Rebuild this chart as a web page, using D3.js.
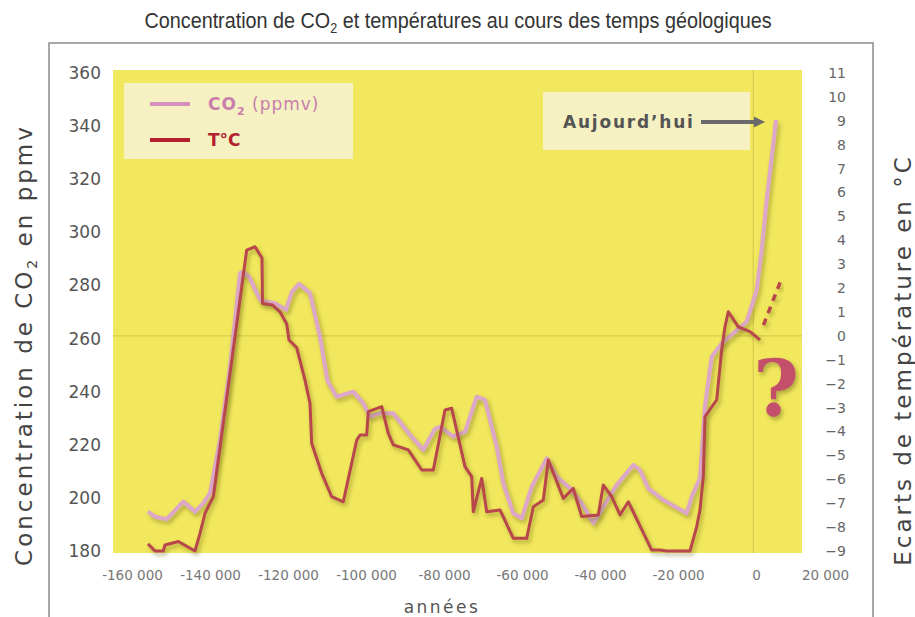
<!DOCTYPE html>
<html>
<head>
<meta charset="utf-8">
<script src="https://cdn.jsdelivr.net/npm/d3@7"></script>
<style>
	body { margin: 0; background: #fff; }
	svg { display: block; }
</style>
</head>
<body>
<svg id="chart"></svg>
<script>
// données
const co2Years = [-155900, -154100, -151100, -146850, -143850, -141700, -140000, -137440, -134870, -132310,
	-131620, -130000, -127050, -123330, -120510, -119050, -117180, -114360, -111800, -109870,
	-107510, -103260, -100690, -98970, -96410, -93000, -88720, -85310, -82310, -81030,
	-77610, -74620, -71620, -69490, -66490, -64790, -62230, -60080, -57510, -53670,
	-51100, -47690, -44690, -41720, -39150, -35720, -31460, -29740, -27620, -23770,
	-17770, -16490, -14360, -13080, -11360, -8800, -5820, -2380, 180, 1460, 2740, 5130];
const co2Values = [194.8, 192.9, 192.0, 198.6, 194.8, 198.0, 201.8, 221.8, 249.4, 284.6,
	285.2, 283.3, 274.3, 273.3, 270.8, 277.5, 280.6, 277.1, 260.7, 244.0,
	238.1, 240.0, 235.6, 230.6, 231.9, 231.9, 223.7, 218.1, 226.0, 226.8,
	223.1, 224.9, 238.1, 236.9, 219.3, 205.5, 194.2, 192.3, 204.2, 214.9,
	208.0, 203.6, 198.0, 190.5, 196.7, 204.9, 212.4, 210.5, 203.6, 199.2,
	194.2, 200.5, 207.5, 234.4, 253.2, 258.2, 262.0, 266.4, 278.3, 293.4, 312.2, 342.3];

const tempYears = [-155900, -154100, -151970, -151540, -148130, -143850, -142560, -141280, -139150, -130590,
	-128460, -126670, -126540, -123970, -122050, -120330, -119740, -117770, -115640, -114360,
	-113930, -111360, -108800, -105820, -102380, -101540, -99820, -99410, -95970, -94280,
	-93000, -89150, -85720, -82740, -79740, -78030, -74620, -72900, -72490, -70330,
	-69050, -65640, -62230, -58800, -57100, -54540, -53260, -49410, -46850, -44690,
	-40440, -39150, -37000, -34870, -32740, -26740, -24620, -22900, -16920, -15200,
	-14360, -13510, -13080, -10080, -8800, -7950, -7100, -4540, -1540, 1030];
const tempValues = [-8.7, -9.0, -9.0, -8.75, -8.6, -9.0, -8.26, -7.42, -6.73, 3.59,
	3.73, 3.26, 1.36, 1.29, 1.01, 0.5, -0.17, -0.49, -1.85, -2.82,
	-4.49, -5.75, -6.73, -6.94, -4.36, -4.15, -4.15, -3.17, -2.96, -4.08,
	-4.56, -4.77, -5.61, -5.61, -3.1, -3.03, -5.47, -5.89, -7.36, -5.96,
	-7.36, -7.28, -8.47, -8.47, -7.15, -6.87, -5.19, -6.8, -6.38, -7.56,
	-7.49, -6.24, -6.73, -7.49, -6.94, -8.96, -8.96, -9.0, -9.0, -7.98,
	-7.28, -5.89, -3.38, -2.68, -0.59, 0.38, 1.01, 0.38, 0.18, -0.17];

// prolongement incertain (pointillés)
const trendYears = [1900, 6200];
const trendValues = [0.45, 2.25];

const yearTicks = [-160000, -140000, -120000, -100000, -80000, -60000, -40000, -20000, 0, 20000];
const co2Ticks = [180, 200, 220, 240, 260, 280, 300, 320, 340, 360];
const tempTicks = d3.range(-9, 12);

const width = 915;
const height = 617;

const svg = d3.select("#chart")
              .attr("width", width)
              .attr("height", height);

// ombre portée des courbes
const defs = svg.append("defs");
defs.append("filter")
    .attr("id", "shadow")
    .attr("x", "-10%").attr("y", "-10%")
    .attr("width", "130%").attr("height", "130%")
    .append("feDropShadow")
    .attr("dx", 2).attr("dy", 3)
    .attr("stdDeviation", 2)
    .attr("flood-color", "#5f5a1c")
    .attr("flood-opacity", 0.45);

defs.append("marker")
    .attr("id", "arrow")
    .attr("viewBox", "0 0 10 10")
    .attr("refX", 1).attr("refY", 5)
    .attr("markerWidth", 3.6).attr("markerHeight", 2.8)
    .attr("markerUnits", "strokeWidth")
    .attr("orient", "auto")
    .append("path")
    .attr("d", "M0,0 L10,5 L0,10 Z")
    .attr("fill", "#6a6a6a");

// échelles
const xScale = d3.scaleLinear([-160000, 20000], [132, 834]);
const co2Scale = d3.scaleLinear([180, 360], [551, 73]);
const tempScale = d3.scaleLinear([-9, 11], [551, 73]);

// cadre gris
svg.append("path")
   .attr("d", `M49,${height} V43 H873 V${height}`)
   .attr("fill", "none")
   .attr("stroke", "#8c8c8c")
   .attr("stroke-width", 1.5);

// fond jaune
svg.append("rect")
   .attr("x", 113).attr("y", 70)
   .attr("width", 689).attr("height", 483)
   .attr("fill", "#f2e85e");

// repères 0°C / an 0
svg.append("line")
   .attr("x1", 113).attr("x2", 802)
   .attr("y1", tempScale(0)).attr("y2", tempScale(0))
   .attr("stroke", "#d6cc4e").attr("stroke-width", 1.2);
svg.append("line")
   .attr("x1", xScale(-700)).attr("x2", xScale(-700))
   .attr("y1", 70).attr("y2", 553)
   .attr("stroke", "#d6cc4e").attr("stroke-width", 1.2);

// titre (police resserrée)
svg.append("text")
   .attr("transform", "translate(458, 28) scale(0.9, 1)")
   .attr("text-anchor", "middle")
   .attr("font-family", "'Liberation Sans Narrow', 'Arial Narrow', 'Liberation Sans', sans-serif")
   .attr("font-size", 22)
   .attr("fill", "#333")
   .call(t => {
	   t.append("tspan").text("Concentration de CO");
	   t.append("tspan").attr("font-size", 14).attr("dy", 5).text("2");
	   t.append("tspan").attr("dy", -5).text(" et températures au cours des temps géologiques");
   });

// axe gauche (CO2)
svg.append("g")
   .attr("transform", "translate(103, 0)")
   .call(d3.axisLeft(co2Scale).tickValues(co2Ticks).tickSize(0).tickPadding(2))
   .call(g => g.select(".domain").remove())
   .call(g => g.selectAll("text")
               .attr("font-family", "'DejaVu Sans', sans-serif")
               .attr("font-size", 17)
               .attr("fill", "#555"));

// axe droit (température)
svg.append("g")
   .attr("transform", "translate(848, 0)")
   .call(d3.axisLeft(tempScale).tickValues(tempTicks).tickSize(0).tickPadding(2))
   .call(g => g.select(".domain").remove())
   .call(g => g.selectAll("text")
               .attr("font-family", "'DejaVu Sans', sans-serif")
               .attr("font-size", 14)
               .attr("fill", "#666"));

// axe des années
svg.append("g")
   .attr("transform", "translate(0, 570)")
   .call(d3.axisBottom(xScale).tickValues(yearTicks).tickSize(0).tickPadding(0)
           .tickFormat(d => d3.format(",")(d).replace(/,/g, " ").replace("−", "-")))
   .call(g => g.select(".domain").remove())
   .call(g => g.selectAll("text")
               .attr("font-family", "'DejaVu Sans', sans-serif")
               .attr("font-size", 13.5)
               .attr("fill", "#777"))
   .call(g => g.selectAll(".tick").filter(d => d === 20000).select("text").attr("dx", -9));

// titres des axes
svg.append("text")
   .attr("transform", "translate(32, 345) rotate(-90)")
   .attr("text-anchor", "middle")
   .attr("font-family", "'DejaVu Sans', sans-serif")
   .attr("font-size", 23)
   .attr("letter-spacing", 3)
   .attr("fill", "#444")
   .call(t => {
	   t.append("tspan").text("Concentration de CO");
	   t.append("tspan").attr("font-size", 14).attr("dy", 5).text("2");
	   t.append("tspan").attr("dy", -5).text(" en ppmv");
   });

svg.append("text")
   .attr("transform", "translate(911, 360) rotate(-90)")
   .attr("text-anchor", "middle")
   .attr("font-family", "'DejaVu Sans', sans-serif")
   .attr("font-size", 23)
   .attr("letter-spacing", 3)
   .attr("fill", "#444")
   .text("Ecarts de température en °C");

svg.append("text")
   .attr("x", 442).attr("y", 613)
   .attr("text-anchor", "middle")
   .attr("font-family", "'DejaVu Sans', sans-serif")
   .attr("font-size", 17)
   .attr("letter-spacing", 2.5)
   .attr("fill", "#555")
   .text("années");

// courbes
const co2Line = d3.line()
                  .x(i => xScale(co2Years[i]))
                  .y(i => co2Scale(co2Values[i]));
const tempLine = d3.line()
                   .x(i => xScale(tempYears[i]))
                   .y(i => tempScale(tempValues[i]));
const trendLine = d3.line()
                    .x(i => xScale(trendYears[i]))
                    .y(i => tempScale(trendValues[i]));

svg.append("path")
   .attr("d", co2Line(d3.range(co2Years.length)))
   .attr("fill", "none")
   .attr("stroke", "#dca7c8")
   .attr("stroke-width", 4)
   .attr("stroke-linejoin", "round")
   .attr("filter", "url(#shadow)");

svg.append("path")
   .attr("d", tempLine(d3.range(tempYears.length)))
   .attr("fill", "none")
   .attr("stroke", "#b8464c")
   .attr("stroke-width", 3)
   .attr("stroke-linejoin", "round")
   .attr("filter", "url(#shadow)");

svg.append("path")
   .attr("d", trendLine(d3.range(trendYears.length)))
   .attr("fill", "none")
   .attr("stroke", "#b8464c")
   .attr("stroke-width", 3.5)
   .attr("stroke-dasharray", "7 6")
   .attr("filter", "url(#shadow)");

// point d'interrogation
svg.append("text")
   .attr("x", 776).attr("y", 416)
   .attr("text-anchor", "middle")
   .attr("font-family", "'DejaVu Serif', serif")
   .attr("font-weight", "bold")
   .attr("font-size", 78)
   .attr("fill", "#c4506a")
   .attr("filter", "url(#shadow)")
   .text("?");

// légende
const legend = svg.append("g");
legend.append("rect")
      .attr("x", 124).attr("y", 83)
      .attr("width", 229).attr("height", 76)
      .attr("fill", "#f6f1c2");
legend.append("line")
      .attr("x1", 150).attr("x2", 190)
      .attr("y1", 104).attr("y2", 104)
      .attr("stroke", "#d48fbb").attr("stroke-width", 4);
legend.append("line")
      .attr("x1", 150).attr("x2", 190)
      .attr("y1", 140).attr("y2", 140)
      .attr("stroke", "#b3202e").attr("stroke-width", 4);
legend.append("text")
      .attr("x", 208).attr("y", 110)
      .attr("font-family", "'DejaVu Sans', sans-serif")
      .attr("font-size", 17)
      .attr("letter-spacing", 1)
      .attr("fill", "#c87dab")
      .call(t => {
	      t.append("tspan").attr("font-weight", "bold").text("CO");
	      t.append("tspan").attr("font-weight", "bold").attr("font-size", 11).attr("dy", 5).text("2");
	      t.append("tspan").attr("dy", -5).text(" (ppmv)");
      });
legend.append("text")
      .attr("x", 208).attr("y", 146)
      .attr("font-family", "'DejaVu Sans', sans-serif")
      .attr("font-size", 17)
      .attr("font-weight", "bold")
      .attr("fill", "#b3202e")
      .text("T°C");

// encadré "Aujourd'hui"
svg.append("rect")
   .attr("x", 543).attr("y", 92)
   .attr("width", 207).attr("height", 58)
   .attr("fill", "#f6f1c2");
svg.append("text")
   .attr("x", 563).attr("y", 128)
   .attr("font-family", "'DejaVu Sans', sans-serif")
   .attr("font-size", 17)
   .attr("font-weight", "bold")
   .attr("letter-spacing", 1.8)
   .attr("fill", "#555")
   .text("Aujourd’hui");
svg.append("line")
   .attr("x1", 701).attr("x2", 755)
   .attr("y1", 122).attr("y2", 122)
   .attr("stroke", "#6a6a6a")
   .attr("stroke-width", 4)
   .attr("marker-end", "url(#arrow)");
</script>
</body>
</html>
